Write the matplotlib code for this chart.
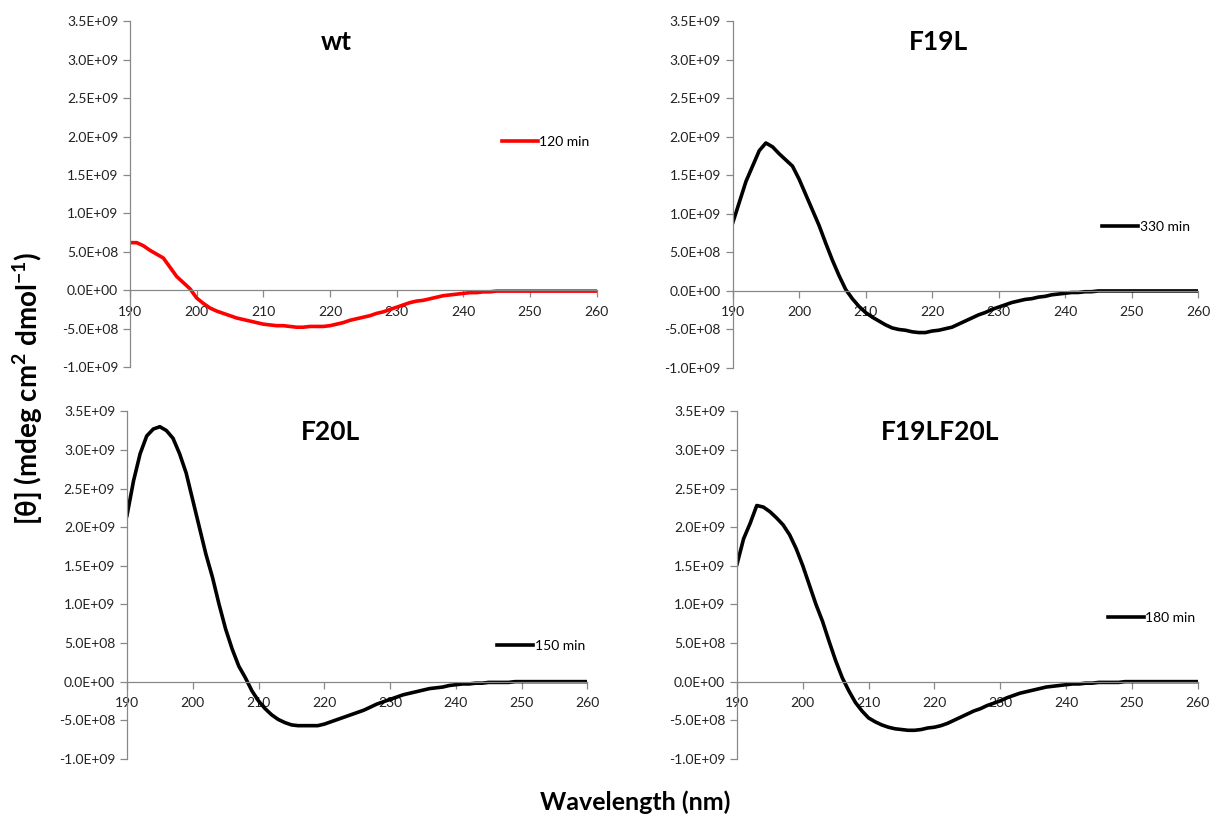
import matplotlib
matplotlib.use("Agg")
import matplotlib.pyplot as plt
import numpy as np
from matplotlib.ticker import FuncFormatter, MultipleLocator

plt.rcParams['font.family'] = ['Lato', 'DejaVu Sans']
plt.rcParams['mathtext.fontset'] = 'custom'
plt.rcParams['mathtext.bf'] = 'Lato:bold'
plt.rcParams['mathtext.rm'] = 'Lato'

wavelength = list(range(190, 261))

wt = [0.62, 0.62, 0.58, 0.52, 0.47, 0.42, 0.30, 0.18, 0.10, 0.02,
      -0.10, -0.17, -0.23, -0.27, -0.30, -0.33, -0.36, -0.38, -0.40, -0.42,
      -0.44, -0.45, -0.46, -0.46, -0.47, -0.48, -0.48, -0.47, -0.47, -0.47,
      -0.46, -0.44, -0.42, -0.39, -0.37, -0.35, -0.33, -0.30, -0.28, -0.25,
      -0.22, -0.19, -0.16, -0.14, -0.13, -0.11, -0.09, -0.07, -0.06, -0.05,
      -0.04, -0.03, -0.03, -0.02, -0.02, -0.01, -0.01, -0.01, -0.01, -0.01,
      -0.01, -0.01, -0.01, -0.01, -0.01, -0.01, -0.01, -0.01, -0.01, -0.01, -0.01]

f19l = [0.88, 1.15, 1.42, 1.62, 1.82, 1.92, 1.87, 1.78, 1.70, 1.62,
        1.45, 1.25, 1.05, 0.85, 0.62, 0.40, 0.20, 0.02, -0.10, -0.20,
        -0.28, -0.34, -0.39, -0.44, -0.48, -0.50, -0.51, -0.53, -0.54, -0.54,
        -0.52, -0.51, -0.49, -0.47, -0.43, -0.39, -0.35, -0.31, -0.28, -0.24,
        -0.21, -0.18, -0.15, -0.13, -0.11, -0.10, -0.08, -0.07, -0.05, -0.04,
        -0.03, -0.02, -0.02, -0.01, -0.01, 0.0, 0.0, 0.0, 0.0, 0.0,
        0.0, 0.0, 0.0, 0.0, 0.0, 0.0, 0.0, 0.0, 0.0, 0.0, 0.0]

f20l = [2.15, 2.60, 2.95, 3.18, 3.27, 3.30, 3.25, 3.15, 2.95, 2.70,
        2.35, 2.00, 1.65, 1.35, 1.00, 0.68, 0.42, 0.20, 0.05, -0.12,
        -0.25, -0.35, -0.43, -0.49, -0.53, -0.56, -0.57, -0.57, -0.57, -0.57,
        -0.55, -0.52, -0.49, -0.46, -0.43, -0.40, -0.37, -0.33, -0.29, -0.26,
        -0.23, -0.20, -0.17, -0.15, -0.13, -0.11, -0.09, -0.08, -0.07, -0.05,
        -0.04, -0.03, -0.03, -0.02, -0.02, -0.01, -0.01, -0.01, -0.01, 0.0,
        0.0, 0.0, 0.0, 0.0, 0.0, 0.0, 0.0, 0.0, 0.0, 0.0, 0.0]

f19lf20l = [1.52, 1.85, 2.05, 2.28, 2.26, 2.20, 2.12, 2.03, 1.90, 1.72,
            1.50, 1.25, 1.00, 0.78, 0.52, 0.27, 0.05, -0.12, -0.27, -0.38,
            -0.47, -0.52, -0.56, -0.59, -0.61, -0.62, -0.63, -0.63, -0.62, -0.60,
            -0.59, -0.57, -0.54, -0.50, -0.46, -0.42, -0.38, -0.35, -0.31, -0.28,
            -0.25, -0.21, -0.18, -0.15, -0.13, -0.11, -0.09, -0.07, -0.06, -0.05,
            -0.04, -0.03, -0.03, -0.02, -0.02, -0.01, -0.01, -0.01, -0.01, 0.0,
            0.0, 0.0, 0.0, 0.0, 0.0, 0.0, 0.0, 0.0, 0.0, 0.0, 0.0]

titles = ["wt", "F19L", "F20L", "F19LF20L"]
legend_labels = ["120 min", "330 min", "150 min", "180 min"]
colors = ["#FF0000", "#000000", "#000000", "#000000"]
series = [wt, f19l, f20l, f19lf20l]
scale = 1e9

# [left, bottom, width, height]
positions = [
    [0.107, 0.550, 0.384, 0.424],
    [0.603, 0.549, 0.383, 0.425],
    [0.1045, 0.070, 0.379, 0.426],
    [0.6066, 0.070, 0.379, 0.426],
]
legend_anchor = [(0.797, 0.650), (0.794, 0.406), (0.804, 0.325), (0.805, 0.405)]

fig = plt.figure(figsize=(12.15, 8.16), dpi=100)

fmt = FuncFormatter(lambda v, p: f"{v:.1E}")
gray = "#888888"

for i in range(4):
    ax = fig.add_axes(positions[i])
    y = np.array(series[i]) * scale
    ax.plot(wavelength, y, color=colors[i], lw=2.6, label=legend_labels[i],
            solid_joinstyle='round')
    ax.set_xlim(190, 260)
    ax.set_ylim(-1.0e9, 3.5e9)
    ax.xaxis.set_major_locator(MultipleLocator(10))
    ax.yaxis.set_major_locator(MultipleLocator(0.5e9))
    ax.yaxis.set_major_formatter(fmt)
    ax.spines['top'].set_visible(False)
    ax.spines['right'].set_visible(False)
    ax.spines['bottom'].set_position(('data', 0))
    for s in ['left', 'bottom']:
        ax.spines[s].set_color(gray)
        ax.spines[s].set_linewidth(0.9)
    ax.tick_params(axis='both', colors=gray, labelcolor='#222222',
                   labelsize=10, length=5, width=0.9, direction='out')
    ax.tick_params(axis='x', pad=6)
    ax.text(0.442, 0.94, titles[i], transform=ax.transAxes, fontsize=19,
            fontweight='bold', ha='center', va='center')
    ax.legend(loc='center left', bbox_to_anchor=legend_anchor[i], frameon=False,
              borderpad=0, borderaxespad=0, handlelength=2.6,
              handletextpad=0.1, fontsize=10)

fig.text(0.023, 0.5245, r"[θ] (mdeg cm$^\mathbf{2}$ dmol$^\mathbf{-1}$)", rotation=90,
         fontsize=20, fontweight='bold', ha='center', va='center')
fig.text(0.523, 0.017, "Wavelength (nm)", fontsize=18, fontweight='bold',
         ha='center', va='center')

fig.savefig("out.png", dpi=100)
